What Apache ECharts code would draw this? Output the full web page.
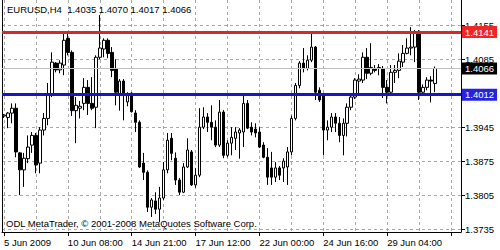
<!DOCTYPE html>
<html><head><meta charset="utf-8">
<script src="https://cdn.jsdelivr.net/npm/echarts@6/dist/echarts.min.js"></script>
<style>html,body{margin:0;padding:0;background:#fff}#c{width:500px;height:250px}</style>
</head><body><div id="c"></div>
<script>
const symbol = 'EURUSD,H4';
const copyright = 'ODL MetaTrader, \u00A9 2001-2008 MetaQuotes Software Corp.';
const open = [1.3968,1.3965,1.3974,1.3984,1.3892,1.3857,1.3880,1.3908,1.3928,1.3871,1.3939,1.3963,1.4011,1.4077,1.4063,1.4073,1.4128,1.4099,1.3979,1.3984,1.3994,1.4027,1.3994,1.3986,1.4089,1.4106,1.4124,1.4099,1.4066,1.4013,1.4040,1.3997,1.4015,1.3974,1.3955,1.3871,1.3852,1.3780,1.3793,1.3776,1.3799,1.3857,1.3922,1.3881,1.3836,1.3811,1.3863,1.3894,1.3826,1.3846,1.3945,1.3966,1.3955,1.3945,1.3908,1.3976,1.3887,1.3912,1.3922,1.3933,1.3935,1.3994,1.3945,1.3941,1.3935,1.3908,1.3883,1.3861,1.3842,1.3861,1.3861,1.3863,1.3894,1.3963,1.4031,1.4077,1.4066,1.4083,1.4110,1.4021,1.4011,1.3939,1.3945,1.3966,1.3953,1.3928,1.3953,1.3986,1.4007,1.4040,1.4042,1.4089,1.4056,1.4066,1.4066,1.4066,1.4027,1.4017,1.4058,1.4062,1.4079,1.4097,1.4108,1.4110,1.4139,1.4017,1.4027,1.4042,1.4035];
const high = [1.3972,1.3976,1.3994,1.3994,1.3894,1.3892,1.3928,1.3935,1.3933,1.3945,1.3974,1.4036,1.4099,1.4079,1.4083,1.4141,1.4139,1.4103,1.4007,1.3999,1.4046,1.4042,1.4048,1.4093,1.4176,1.4128,1.4128,1.4110,1.4085,1.4044,1.4044,1.4017,1.4017,1.3980,1.3959,1.3892,1.3856,1.3799,1.3811,1.3822,1.3873,1.3933,1.3933,1.3893,1.3840,1.3871,1.3922,1.3898,1.3861,1.3984,1.3986,1.3974,1.3990,1.3959,1.4001,1.3980,1.3918,1.3945,1.3945,1.3943,1.4011,1.4001,1.3955,1.3953,1.3945,1.3914,1.3902,1.3894,1.3873,1.3865,1.3881,1.3904,1.3969,1.4036,1.4081,1.4108,1.4093,1.4139,1.4112,1.4027,1.4015,1.3959,1.3974,1.3974,1.3966,1.3963,1.3994,1.4011,1.4046,1.4054,1.4099,1.4108,1.4118,1.4073,1.4075,1.4071,1.4042,1.4073,1.4073,1.4097,1.4114,1.4128,1.4151,1.4145,1.4145,1.4033,1.4048,1.4050,1.4070];
const low = [1.3964,1.3943,1.3953,1.3883,1.3805,1.3822,1.3871,1.3892,1.3850,1.3850,1.3928,1.3949,1.4007,1.4058,1.4056,1.4052,1.4093,1.3968,1.3912,1.3963,1.3980,1.3970,1.3980,1.3943,1.4085,1.4089,1.4087,1.4048,1.3990,1.3979,1.3959,1.3988,1.3975,1.3935,1.3861,1.3836,1.3770,1.3760,1.3766,1.3749,1.3795,1.3850,1.3877,1.3826,1.3805,1.3809,1.3861,1.3824,1.3820,1.3842,1.3941,1.3935,1.3918,1.3904,1.3904,1.3881,1.3883,1.3887,1.3898,1.3880,1.3904,1.3941,1.3928,1.3924,1.3902,1.3881,1.3826,1.3826,1.3832,1.3836,1.3832,1.3826,1.3887,1.3959,1.4025,1.4058,1.4062,1.4079,1.4001,1.3997,1.3887,1.3918,1.3935,1.3935,1.3914,1.3887,1.3926,1.3980,1.4003,1.4013,1.4036,1.4044,1.4052,1.4058,1.4052,1.4005,1.3994,1.4011,1.4036,1.4046,1.4069,1.4095,1.4093,1.4079,1.4001,1.4013,1.4021,1.3996,1.4017];
const close = [1.3970,1.3974,1.3984,1.3894,1.3857,1.3881,1.3904,1.3928,1.3867,1.3939,1.3963,1.4011,1.4079,1.4063,1.4077,1.4124,1.4099,1.3979,1.3990,1.3988,1.4027,1.3994,1.3984,1.4089,1.4108,1.4124,1.4097,1.4062,1.4017,1.4040,1.4013,1.4013,1.3977,1.3955,1.3863,1.3852,1.3780,1.3795,1.3776,1.3799,1.3857,1.3918,1.3891,1.3836,1.3811,1.3863,1.3898,1.3826,1.3846,1.3945,1.3966,1.3955,1.3945,1.3908,1.3976,1.3887,1.3912,1.3924,1.3935,1.3939,1.3994,1.3943,1.3935,1.3933,1.3904,1.3883,1.3842,1.3842,1.3861,1.3846,1.3875,1.3894,1.3963,1.4031,1.4077,1.4066,1.4083,1.4110,1.4017,1.4001,1.3939,1.3945,1.3966,1.3953,1.3928,1.3953,1.3986,1.4007,1.4042,1.4044,1.4089,1.4056,1.4068,1.4062,1.4068,1.4027,1.4017,1.4058,1.4062,1.4081,1.4097,1.4108,1.4110,1.4139,1.4017,1.4027,1.4042,1.4040,1.4066];
const timeLabels = ['5 Jun 2009','10 Jun 08:00','14 Jun 21:00','17 Jun 12:00','22 Jun 00:00','24 Jun 16:00','29 Jun 04:00'];
const priceTicks = [1.3735,1.3805,1.3875,1.3945,1.4015,1.4085,1.4155];
const priceLabels = [1.3735,1.3805,1.3875,1.3945,1.4085,1.4155];
const resistance = 1.4141;
const support = 1.4012;
const emptySlots = 6;
const labelEvery = 16;
const gridEvery = 8;

const n = open.length;
const slots = [];
for (let i = 0; i < n + emptySlots; i++) slots.push(String(i));
const candles = open.map((o, i) => [o, close[i], low[i], high[i]]);
const last = n - 1;
const bid = close[last];
const headline = symbol + '  ' + [open[last], high[last], low[last], close[last]].map(v => v.toFixed(4)).join(' ');
const FONT = 'Liberation Sans, Arial, sans-serif';

const chart = echarts.init(document.getElementById('c'), null, {renderer: 'svg'});
chart.setOption({
  animation: false,
  backgroundColor: '#fff',
  title: [
    {text: headline, left: 7, top: 4, padding: 0,
     textStyle: {fontFamily: FONT, fontSize: 9.5, fontWeight: 'normal', color: '#000'}},
    {text: copyright, left: 6, top: 218, padding: 0,
     textStyle: {fontFamily: FONT, fontSize: 9.5, fontWeight: 'normal', color: '#000'}}
  ],
  grid: {left: 2, right: 39, top: 0, bottom: 18, show: false},
  xAxis: {
    type: 'category', data: slots, boundaryGap: true,
    axisLine: {show: true, lineStyle: {color: '#000', width: 1}},
    axisTick: {show: true, alignWithLabel: true, length: 4,
      interval: i => i % labelEvery === 0, lineStyle: {color: '#000'}},
    axisLabel: {show: true, interval: i => i % labelEvery === 0,
      formatter: (v, i) => timeLabels[i / labelEvery] || '',
      align: 'left', margin: 5, color: '#000', fontFamily: FONT, fontSize: 9.5},
    splitLine: {show: true, alignWithLabel: true, interval: i => i % gridEvery === 0,
      lineStyle: {color: '#a8a8a8', width: 1, type: [3, 3]}}
  },
  yAxis: [{
    type: 'value', position: 'right', min: 1.3729, max: 1.4207, scale: true,
    axisLine: {show: true, lineStyle: {color: '#000', width: 1}},
    axisTick: {show: true, length: 4, customValues: priceTicks, lineStyle: {color: '#000'}},
    axisLabel: {show: true, customValues: priceLabels, formatter: v => v.toFixed(4),
      margin: 4, color: '#000', fontFamily: FONT, fontSize: 9.5},
    splitLine: {show: true, lineStyle: {color: '#a8a8a8', width: 1, type: [3, 3]}}
  }, {
    type: 'value', position: 'left', min: 1.3729, max: 1.4207, scale: true,
    axisLine: {show: true, lineStyle: {color: '#000', width: 1}},
    axisTick: {show: false}, axisLabel: {show: false}, splitLine: {show: false}
  }],
  series: [{
    type: 'candlestick', data: candles, barWidth: 3, clip: false,
    itemStyle: {color: '#fff', color0: '#000', borderColor: '#000', borderColor0: '#000', borderWidth: 1},
    markLine: {
      symbol: 'none', silent: true, animation: false, precision: 4,
      label: {show: true, position: 'end', distance: 1, formatter: p => Number(p.value).toFixed(4),
        color: '#fff', fontFamily: FONT, fontSize: 9.5, padding: [1, 3, 0, 3], lineHeight: 11},
      data: [
        {yAxis: bid, lineStyle: {color: '#c0c0c0', width: 1, type: 'solid'},
          label: {backgroundColor: '#000'}},
        {yAxis: resistance, lineStyle: {color: '#d22a2a', width: 3, type: 'solid'},
          label: {backgroundColor: '#ee2626'}},
        {yAxis: support, lineStyle: {color: '#1616c8', width: 3, type: 'solid'},
          label: {backgroundColor: '#2424e0'}}
      ]
    }
  }]
});
</script>
</body></html>
